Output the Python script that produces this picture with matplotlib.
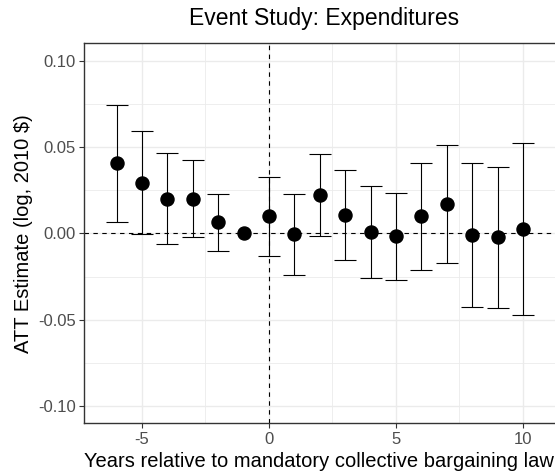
import matplotlib
matplotlib.use("Agg")
import matplotlib.pyplot as plt
import numpy as np

plt.rcParams['font.family'] = ['Liberation Sans', 'DejaVu Sans']

# event-time coefficients, log expenditures (2010 $)
years = [-6, -5, -4, -3, -2, -1, 0, 1, 2, 3, 4, 5, 6, 7, 8, 9, 10]
att = [0.0406, 0.0291, 0.0201, 0.0201, 0.0065, 0.0, 0.0098, -0.0006, 0.0220,
       0.0108, 0.0008, -0.0017, 0.0098, 0.0168, -0.0008, -0.0023, 0.0023]
ci_hi = [0.0742, 0.0590, 0.0466, 0.0422, 0.0229, 0.0, 0.0325, 0.0229, 0.0457,
         0.0368, 0.0274, 0.0235, 0.0410, 0.0509, 0.0410, 0.0383, 0.0522]
ci_lo = [0.0064, -0.0006, -0.0064, -0.0021, -0.0102, 0.0, -0.0133, -0.0243, -0.0017,
         -0.0156, -0.0256, -0.0270, -0.0214, -0.0171, -0.0426, -0.0430, -0.0470]

x_ticks = [-5, 0, 5, 10]
y_ticks = [-0.10, -0.05, 0.00, 0.05, 0.10]
y_ticklabels = ["-0.10", "-0.05", "0.00", "0.05", "0.10"]

att = np.array(att)
ci_hi = np.array(ci_hi)
ci_lo = np.array(ci_lo)
has_ci = ci_hi != ci_lo

fig = plt.figure(figsize=(5.55, 4.75), dpi=100)
ax = fig.add_axes([0.1505, 0.1088, 0.8495, 0.80])

ax.axhline(0, color="black", ls=(0, (4, 4)), lw=0.8, zorder=2)
ax.axvline(0, color="black", ls=(0, (4, 4)), lw=0.8, zorder=2)

yrs = np.array(years)
ax.errorbar(yrs[has_ci], att[has_ci],
            yerr=[att[has_ci] - ci_lo[has_ci], ci_hi[has_ci] - att[has_ci]],
            fmt="none", ecolor="black", elinewidth=0.8, capsize=7.9,
            capthick=0.8, zorder=3)
ax.plot(yrs, att, "o", color="black", ms=9.4, zorder=4)

ax.set_xlim(-7.3, 11.26)
ax.set_ylim(-0.11, 0.11)
ax.set_xticks(x_ticks)
ax.set_xticklabels([str(t) for t in x_ticks])
ax.set_yticks(y_ticks)
ax.set_yticklabels(y_ticklabels)
ax.set_xticks([-2.5, 2.5, 7.5], minor=True)
ax.set_yticks([-0.075, -0.025, 0.025, 0.075], minor=True)

ax.grid(which="major", color="#EBEBEB", lw=1.0, zorder=0)
ax.grid(which="minor", color="#EBEBEB", lw=0.6, zorder=0)
ax.set_axisbelow(True)

for side in ["left", "bottom", "top"]:
    ax.spines[side].set_color("#333333")
    ax.spines[side].set_linewidth(1.0)
ax.spines["right"].set_visible(False)

ax.tick_params(which="major", length=3.5, width=0.8, color="#333333",
               labelcolor="#4D4D4D", labelsize=12, pad=2)
ax.tick_params(axis="x", which="major", pad=3)
ax.tick_params(which="minor", length=0)

ax.set_xlabel("Years relative to mandatory collective bargaining law",
              fontsize=14.5, color="black", labelpad=3)
ax.set_ylabel("ATT Estimate (log, 2010 $)", fontsize=14.5, color="black", labelpad=4)
fig.text(0.5847, 0.960, "Event Study: Expenditures", ha="center", va="center",
         fontsize=16.5)

fig.savefig("out.png", dpi=100)
